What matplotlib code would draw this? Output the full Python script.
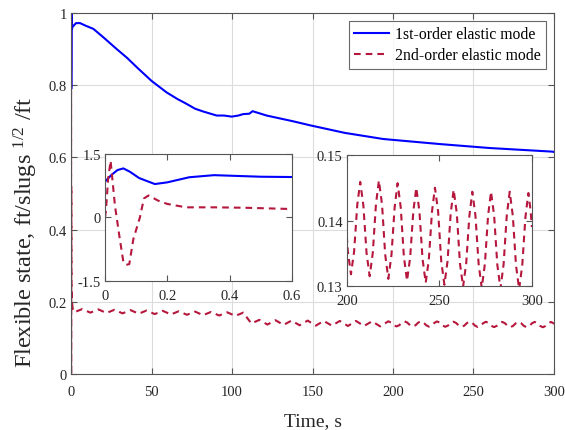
import matplotlib
matplotlib.use("Agg")
import matplotlib.pyplot as plt

plt.rcParams['font.family'] = ['Liberation Serif', 'DejaVu Serif']
plt.rcParams['mathtext.fontset'] = 'custom'
plt.rcParams['mathtext.rm'] = 'Liberation Serif'
plt.rcParams['mathtext.it'] = 'Liberation Serif:italic'

# ---------------- data ----------------
# 1st-order elastic mode (blue)
blue_t = [0, 0.02, 0.04, 0.059, 0.08, 0.11, 0.16, 0.2, 0.27, 0.35, 0.43, 0.5, 0.6,
          1, 3.1, 5.6, 9, 13.9, 20, 28.4, 35, 40.8, 50, 59.4, 66, 71.9, 77, 82.2,
          90.5, 95, 99.8, 104, 107, 110.7, 112.8, 121.5, 138, 148.4, 170, 193.9,
          229, 260, 299, 300]
blue_v = [0.845, 1.0, 1.12, 1.16, 1.08, 0.93, 0.79, 0.83, 0.95, 1.0, 0.98, 0.963, 0.956,
          0.962, 0.972, 0.972, 0.965, 0.956, 0.933, 0.900, 0.875, 0.850, 0.812, 0.780,
          0.762, 0.748, 0.735, 0.727, 0.716, 0.716, 0.713, 0.716, 0.720, 0.721, 0.728,
          0.716, 0.700, 0.689, 0.668, 0.651, 0.637, 0.626, 0.616, 0.615]

# 2nd-order elastic mode (red dashed)
red_t = [0, 0.003, 0.01, 0.018, 0.032, 0.046, 0.059, 0.068, 0.078, 0.091, 0.112,
         0.125, 0.14, 0.17, 0.2, 0.26, 0.35, 0.45, 0.6,
         1, 2, 7, 12, 17, 22, 27, 32, 37, 42, 47, 52, 57, 62, 67, 72, 77, 82, 87,
         92, 97, 102, 107, 112, 117, 122, 127, 132, 137, 142, 147, 152, 157, 162,
         167, 172, 177, 182, 187, 192,
         197.1, 198.8, 200.5, 202.2, 203.9, 205.6, 207.2, 208.9, 210.6, 212.3,
         214.0, 215.7, 217.3, 219.0, 220.7, 222.4, 224.1, 225.8, 227.4, 229.1,
         230.8, 232.5, 234.2, 235.9, 237.5, 239.2, 240.9, 242.6, 244.3, 246.0,
         247.6, 249.3, 251.0, 252.7, 254.4, 256.1, 257.7, 259.4, 261.1, 262.8,
         264.5, 266.2, 267.8, 269.5, 271.2, 272.9, 274.6, 276.3, 277.9, 279.6,
         281.3, 283.0, 284.7, 286.4, 288.0, 289.7, 291.4, 293.1, 294.8, 296.5,
         298.1, 299.3, 300.0]
red_v = [0, 0.16, 0.9, 1.34, 0.28, -0.43, -1.05, -1.12, -1.1, -0.51, 0.0,
         0.45, 0.52, 0.40, 0.32, 0.24, 0.24, 0.23, 0.20,
         0.182, 0.171, 0.180, 0.170, 0.179, 0.169, 0.178, 0.168, 0.177, 0.167,
         0.176, 0.166, 0.175, 0.165, 0.174, 0.164, 0.173, 0.163, 0.172, 0.162,
         0.171, 0.161, 0.170, 0.140, 0.150, 0.137, 0.149, 0.136, 0.148, 0.135,
         0.148, 0.134, 0.147, 0.134, 0.147, 0.133, 0.147, 0.133, 0.146, 0.132,
         0.1460, 0.1425, 0.1353, 0.1318, 0.1353, 0.1424, 0.1459, 0.1423, 0.1351, 0.1315,
         0.1351, 0.1425, 0.1461, 0.1424, 0.1348, 0.1311, 0.1348, 0.1420, 0.1457, 0.1420,
         0.1345, 0.1308, 0.1344, 0.1414, 0.1450, 0.1414, 0.1341, 0.1305, 0.1341, 0.1414,
         0.1450, 0.1414, 0.1338, 0.1302, 0.1338, 0.1411, 0.1447, 0.1411, 0.1335, 0.1299,
         0.1335, 0.1407, 0.1444, 0.1407, 0.1334, 0.1297, 0.1334, 0.1407, 0.1444, 0.1407,
         0.1333, 0.1296, 0.1333, 0.1407, 0.1444, 0.1407, 0.1332, 0.1295, 0.1332, 0.1405,
         0.1442, 0.1415, 0.1390]

series_names = ["1st-order elastic mode", "2nd-order elastic mode"]

main_xticks = [0, 50, 100, 150, 200, 250, 300]
main_yticks = [0, 0.2, 0.4, 0.6, 0.8, 1]
main_yticklabels = ["0", "0.2", "0.4", "0.6", "0.8", "1"]
in1_xticks = [0, 0.2, 0.4, 0.6]
in1_xticklabels = ["0", "0.2", "0.4", "0.6"]
in1_yticks = [-1.5, 0, 1.5]
in1_yticklabels = ["-1.5", "0", "1.5"]
in2_xticks = [200, 250, 300]
in2_yticks = [0.13, 0.14, 0.15]
in2_yticklabels = ["0.13", "0.14", "0.15"]

xlabel = "Time, s"
ylabel = r"Flexible state, ft/slugs $^{1/2}$ /ft"

# ---------------- style ----------------
BLUE = "#0000FF"
RED = "#B5173D"
SPINE = "#555555"
TXT = "#262626"
FS = 10.5
dash = (0, (3.2, 2.4))

fig = plt.figure(figsize=(5.65, 4.31), dpi=100)

def style_axes(ax, grid=False, xpad=7):
    for s in ax.spines.values():
        s.set_color(SPINE)
        s.set_linewidth(0.8)
    ax.tick_params(direction='in', top=True, right=True, length=4, width=0.8,
                   color=SPINE, labelcolor=TXT, labelsize=FS, pad=3)
    ax.tick_params(axis='x', pad=xpad)
    if grid:
        ax.grid(True, color="#DCDCDC", linewidth=0.8)
        ax.set_axisbelow(True)

ax = fig.add_axes([0.1257, 0.1299, 0.8548, 0.8376])
style_axes(ax, grid=True, xpad=8)
ax.plot(blue_t, blue_v, color=BLUE, lw=1.5, label=series_names[0])
ax.plot(red_t, red_v, color=RED, lw=1.5, linestyle=dash, label=series_names[1])
ax.set_xlim(0, 300)
ax.set_ylim(0, 1)
ax.set_xticks(main_xticks)
ax.set_yticks(main_yticks)
ax.set_yticklabels(main_yticklabels)
ax.set_xlabel(xlabel, fontsize=14, color=TXT, labelpad=10)
ax.set_ylabel(ylabel, fontsize=17.5, color=TXT)
ax.yaxis.set_label_coords(-0.064, 0.396)
leg = ax.legend(loc='upper right', fontsize=11.3, frameon=True, fancybox=False,
                edgecolor="#444444", handlelength=2.2, borderaxespad=0.5,
                labelspacing=0.3, handletextpad=0.4, borderpad=0.35)
leg.get_frame().set_linewidth(0.8)

# inset 1
ax1 = fig.add_axes([0.1858, 0.3457, 0.331, 0.2947])
style_axes(ax1, xpad=6)
ax1.plot(blue_t, blue_v, color=BLUE, lw=1.5)
ax1.plot(red_t, red_v, color=RED, lw=1.5, linestyle=dash)
ax1.set_xlim(0, 0.6)
ax1.set_ylim(-1.5, 1.5)
ax1.set_xticks(in1_xticks)
ax1.set_xticklabels(in1_xticklabels)
ax1.set_yticks(in1_yticks)
ax1.set_yticklabels(in1_yticklabels)

# inset 2
ax2 = fig.add_axes([0.614, 0.334, 0.3274, 0.304])
style_axes(ax2, xpad=6)
ax2.plot(blue_t, blue_v, color=BLUE, lw=1.5)
ax2.plot(red_t, red_v, color=RED, lw=1.5, linestyle=dash)
ax2.set_xlim(200, 300)
ax2.set_ylim(0.13, 0.15)
ax2.set_xticks(in2_xticks)
ax2.set_yticks(in2_yticks)
ax2.set_yticklabels(in2_yticklabels)

fig.savefig("out.png", dpi=100)
